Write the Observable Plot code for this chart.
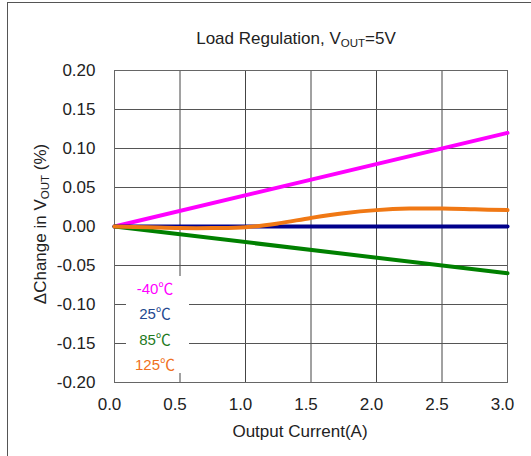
<!DOCTYPE html>
<html>
<head>
<meta charset="utf-8">
<script src="https://cdn.jsdelivr.net/npm/d3@7"></script>
<script src="https://cdn.jsdelivr.net/npm/@observablehq/plot@0.6"></script>
<style>
  body { margin: 0; background: #fff; font-family: "Liberation Sans", Arial, sans-serif; }
  #wrap { position: relative; width: 531px; height: 456px; overflow: hidden; }
  #border { position: absolute; left: 7px; top: 2px; width: 600px; height: 600px; border-top: 1.5px solid #555; border-left: 1.5px solid #555; box-sizing: border-box; }
  .lbl { position: absolute; color: #222; font-size: 17px; white-space: nowrap; }
  .lbl sub { font-size: 11.5px; vertical-align: -3px; }
  #title { left: 0; width: 592px; top: 29px; text-align: center; }
  #ylab { left: 41px; top: 224px; transform: translate(-50%, -50%) rotate(-90deg); }
  #xlab { left: 0; width: 600px; top: 422px; text-align: center; }
  #legend { position: absolute; left: 126px; top: 276px; width: 63px; height: 97px; background: #fff; }
  #legend div { position: absolute; left: 0; width: 58px; text-align: center; font-size: 15px; font-family: "Liberation Sans", sans-serif; line-height: 20px; }
  #legend span { font-family: "Noto Sans CJK SC", sans-serif; font-size: 15px; }
  svg { position: absolute; left: 0; top: 0; }
</style>
</head>
<body>
<div id="wrap">
  <div id="border"></div>
  <div id="chart"></div>
  <div id="title" class="lbl">Load Regulation, V<sub>OUT</sub>=5V</div>
  <div id="ylab" class="lbl">ΔChange in V<sub>OUT</sub> (%)</div>
  <div id="xlab" class="lbl">Output Current(A)</div>
  <div id="legend"></div>
</div>
<script>
// Data
const current = [0, 3.0];
const tMinus40 = [0, 0.12];
const t25 = [0, 0];
const t85 = [0, -0.06];
const current125 = [0, 0.25, 0.5, 0.75, 1.0, 1.25, 1.5, 1.75, 2.0, 2.25, 2.5, 2.75, 3.0];
const t125 = [0, -0.001, -0.002, -0.002, -0.001, 0.004, 0.011, 0.017, 0.021, 0.023, 0.023, 0.022, 0.021];
const xTicks = [0, 0.5, 1.0, 1.5, 2.0, 2.5, 3.0];
const yTicks = [-0.20, -0.15, -0.10, -0.05, 0.00, 0.05, 0.10, 0.15, 0.20];
const seriesNames = ["-40℃", "25℃", "85℃", "125℃"];
const lineColors = ["#ff00ff", "#00008b", "#008000", "#f07814"];
const textColors = ["#ff00ff", "#24488f", "#1e7a1e", "#f07020"];

const rows = [];
[[current, tMinus40, 0], [current, t25, 1], [current, t85, 2], [current125, t125, 3]].forEach(([xs, ys, i]) => {
  xs.forEach((x, j) => rows.push({ x, y: ys[j], s: seriesNames[i] }));
});

const fmtY = d => (Math.abs(d) < 1e-9 ? 0 : d).toFixed(2);
const fmtX = d => d.toFixed(1);

const chart = Plot.plot({
  width: 531,
  height: 456,
  marginLeft: 114,
  marginRight: 24,
  marginTop: 70,
  marginBottom: 74,
  style: { fontFamily: "Liberation Sans, Arial, sans-serif", fontSize: "17px", color: "#222", background: "transparent" },
  x: { domain: [0, 3], ticks: xTicks, tickFormat: fmtX, label: null },
  y: { domain: [-0.2, 0.2], ticks: yTicks, tickFormat: fmtY, label: null },
  color: { domain: seriesNames, range: lineColors },
  marks: [
    Plot.gridX(xTicks, { stroke: "#444", strokeOpacity: 1, strokeWidth: 1 }),
    Plot.gridY(yTicks, { stroke: "#555", strokeOpacity: 1, strokeWidth: 1 }),
    Plot.frame({ stroke: "#666", strokeWidth: 1 }),
    Plot.axisX({ ticks: xTicks, tickFormat: fmtX, tickSize: 0, tickPadding: 15, dx: -5, fill: "#222", fontSize: 17 }),
    Plot.axisY({ ticks: yTicks, tickFormat: fmtY, tickSize: 0, tickPadding: 19, fill: "#222", fontSize: 17 }),
    Plot.line(rows, { x: "x", y: "y", z: "s", stroke: "s", strokeWidth: 4, curve: "catmull-rom" })
  ]
});
document.getElementById("chart").appendChild(chart);

const legend = document.getElementById("legend");
seriesNames.forEach((n, i) => {
  const d = document.createElement("div");
  d.appendChild(document.createTextNode(n.replace("℃", "")));
  const s = document.createElement("span");
  s.textContent = "℃";
  d.appendChild(s);
  d.style.color = textColors[i];
  d.style.top = (2 + i * 25.3) + "px";
  legend.appendChild(d);
});
</script>
</body>
</html>
